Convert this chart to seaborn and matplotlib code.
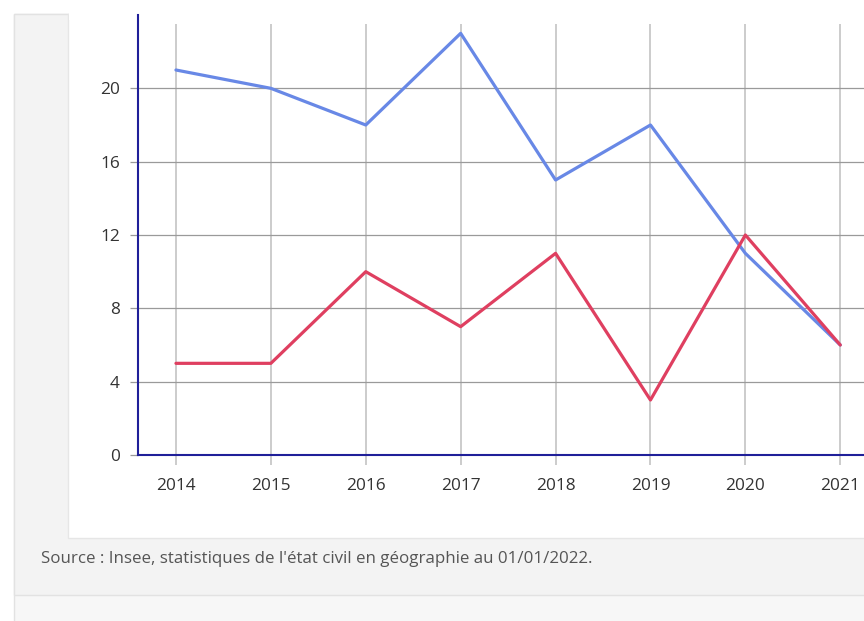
import pandas as pd
import matplotlib
matplotlib.use("Agg")
import matplotlib.pyplot as plt
from matplotlib.patches import Rectangle
import seaborn as sns

# ── Data ───────────────────────────────────────────────────
years = [2014, 2015, 2016, 2017, 2018, 2019, 2020, 2021]
naissances = [21, 20, 18, 23, 15, 18, 11, 6]
deces = [5, 5, 10, 7, 11, 3, 12, 6]
y_ticks = [0, 4, 8, 12, 16, 20]
source_text = "Source : Insee, statistiques de l'état civil en géographie au 01/01/2022."

df = pd.DataFrame({
    "annee": years * 2,
    "valeur": naissances + deces,
    "serie": ["Naissances"] * len(years) + ["Décès"] * len(years),
})

sns.set_theme(style="white")
plt.rcParams["font.family"] = ["Open Sans", "DejaVu Sans"]

W, H = 864, 621
fig = plt.figure(figsize=(W / 100, H / 100), dpi=100)
fig.patch.set_facecolor("#ffffff")

def px_rect(x0, y0, x1, y1, fc, ec="none", lw=0):
    fig.add_artist(Rectangle((x0 / W, 1 - y1 / H), (x1 - x0) / W, (y1 - y0) / H,
                             transform=fig.transFigure, facecolor=fc,
                             edgecolor=ec, linewidth=lw, zorder=-10))

# page background panels
px_rect(14, 14, 870, 700, "#f7f7f7", "#e2e2e2", 1)
px_rect(14, 14, 870, 595, "#f3f3f3", "#e2e2e2", 1)
px_rect(68, 14, 870, 538, "#ffffff", "#e6e6e6", 1)
px_rect(69, -5, 870, 20, "#ffffff")

ax = fig.add_axes([138 / W, 1 - 455 / H, (W - 138) / W, 440 / H])
ax.set_facecolor("none")

sns.lineplot(data=df, x="annee", y="valeur", hue="serie",
             palette={"Naissances": "#6888e6", "Décès": "#df3f60"},
             linewidth=2.3, legend=False, ax=ax, zorder=5)

ax.set_xlim(2013.6, 2021.25)
ax.set_ylim(0, 24)

# grid
ax.vlines(years, 0, 23.5, color="#c8c8c8", linewidth=1.3, zorder=1)
for v in y_ticks[1:]:
    ax.axhline(v, color="#9a9a9a", linewidth=0.9, zorder=1)

ax.set_xticks(years)
ax.set_yticks(y_ticks)
ax.set_xticklabels([str(y) for y in years])
ax.tick_params(axis="x", length=7.2, width=1.3, color="#c8c8c8", pad=9,
               labelsize=12.4, labelcolor="#333333")
ax.tick_params(axis="y", length=6, width=0.9, color="#9a9a9a", pad=7,
               labelsize=12.4, labelcolor="#333333")
ax.xaxis.set_ticks_position("bottom")
ax.yaxis.set_ticks_position("left")

for s in ["top", "right"]:
    ax.spines[s].set_visible(False)
for s in ["left", "bottom"]:
    ax.spines[s].set_color("#1f1f99")
    ax.spines[s].set_linewidth(1.5)
    ax.spines[s].set_zorder(6)

ax.set_xlabel("")
ax.set_ylabel("")

fig.text(41 / W, 1 - 559 / H, source_text, fontsize=12.2, color="#555555",
         va="center", ha="left")

fig.savefig("out.png", dpi=100)
